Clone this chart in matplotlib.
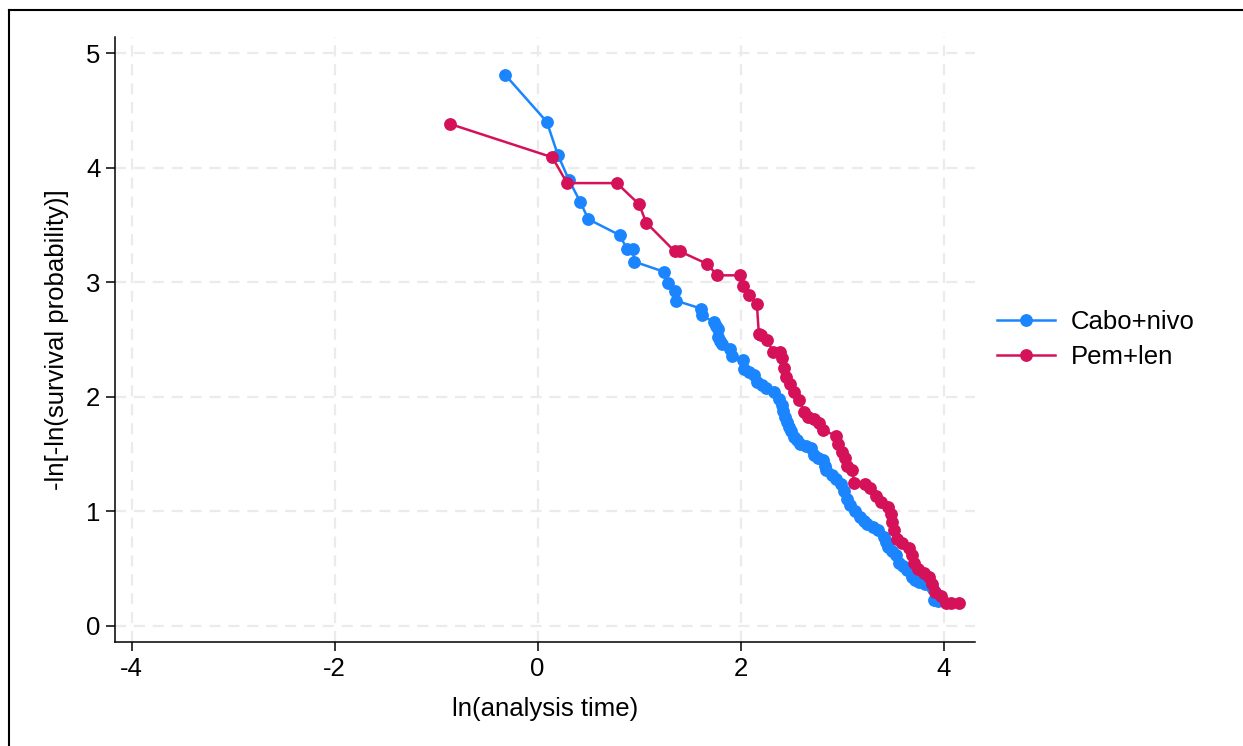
import matplotlib
matplotlib.use('Agg')
import matplotlib.pyplot as plt
from matplotlib.lines import Line2D

plt.rcParams['font.family'] = ['Liberation Sans', 'DejaVu Sans']
plt.rcParams['axes.unicode_minus'] = False

# ln(analysis time) / -ln[-ln(S)]
cabo_x = [-0.32, 0.09, 0.20, 0.31, 0.42, 0.50, 0.81, 0.88, 0.94, 0.95, 1.25, 1.28,
          1.35, 1.36, 1.61, 1.62, 1.74, 1.76, 1.78, 1.78, 1.80, 1.82, 1.90, 1.92,
          2.02, 2.03, 2.08, 2.13, 2.16, 2.21, 2.25, 2.33, 2.38, 2.41, 2.42, 2.44,
          2.46, 2.48, 2.50, 2.53, 2.56, 2.59, 2.64, 2.69, 2.72, 2.76, 2.81, 2.83,
          2.84, 2.90, 2.94, 2.99, 3.02, 3.05, 3.08, 3.13, 3.18, 3.22, 3.25, 3.30,
          3.35, 3.41, 3.43, 3.45, 3.49, 3.53, 3.56, 3.60, 3.64, 3.69, 3.72, 3.76,
          3.82, 3.88, 3.90, 3.91, 3.95]
cabo_y = [4.81, 4.40, 4.11, 3.89, 3.70, 3.55, 3.41, 3.29, 3.29, 3.18, 3.09, 2.99,
          2.92, 2.84, 2.77, 2.71, 2.65, 2.62, 2.59, 2.52, 2.49, 2.46, 2.42, 2.36,
          2.32, 2.24, 2.22, 2.19, 2.13, 2.10, 2.08, 2.04, 1.98, 1.93, 1.88, 1.82,
          1.78, 1.74, 1.70, 1.65, 1.62, 1.59, 1.57, 1.55, 1.49, 1.47, 1.45, 1.40,
          1.36, 1.32, 1.28, 1.24, 1.18, 1.11, 1.06, 1.00, 0.95, 0.92, 0.89, 0.86,
          0.84, 0.78, 0.73, 0.69, 0.65, 0.62, 0.55, 0.52, 0.49, 0.43, 0.40, 0.38,
          0.37, 0.35, 0.32, 0.23, 0.22]

pem_x = [-0.86, 0.145, 0.29, 0.78, 1.00, 1.07, 1.35, 1.40, 1.67, 1.77, 1.99, 2.02,
         2.085, 2.16, 2.18, 2.20, 2.26, 2.32, 2.39, 2.41, 2.43, 2.45, 2.49, 2.53,
         2.58, 2.62, 2.66, 2.72, 2.77, 2.81, 2.94, 2.96, 3.00, 3.03, 3.05, 3.10,
         3.12, 3.23, 3.28, 3.33, 3.38, 3.45, 3.48, 3.49, 3.51, 3.54, 3.59, 3.66,
         3.69, 3.71, 3.75, 3.81, 3.86, 3.89, 3.92, 3.97, 4.02, 4.07, 4.15]
pem_y = [4.38, 4.09, 3.865, 3.865, 3.68, 3.52, 3.27, 3.27, 3.16, 3.06, 3.06, 2.97,
         2.89, 2.81, 2.55, 2.54, 2.50, 2.39, 2.39, 2.34, 2.25, 2.17, 2.11, 2.04,
         1.97, 1.87, 1.82, 1.81, 1.77, 1.71, 1.66, 1.59, 1.52, 1.47, 1.40, 1.36,
         1.25, 1.24, 1.20, 1.13, 1.08, 1.04, 0.98, 0.91, 0.84, 0.76, 0.72, 0.68,
         0.62, 0.55, 0.50, 0.46, 0.43, 0.37, 0.30, 0.26, 0.20, 0.20, 0.20]

labels = ['Cabo+nivo', 'Pem+len']
colors = ['#1a85ff', '#d41159']
FS = 18.5

fig = plt.figure(figsize=(12.43, 7.46), dpi=100)
ax = fig.add_axes([0.0925, 0.1394, 0.6919, 0.811])

for xs, ys, c, lab in [(cabo_x, cabo_y, colors[0], labels[0]), (pem_x, pem_y, colors[1], labels[1])]:
    ax.plot(xs, ys, color=c, lw=1.8, marker='o', ms=8.2, mec=c, mfc=c, label=lab, zorder=3)

ax.set_xlim(-4.165, 4.31)
ax.set_ylim(-0.14, 5.14)
ax.set_xticks([-4, -2, 0, 2, 4])
ax.set_yticks([0, 1, 2, 3, 4, 5])
ax.grid(True, color='#ebebeb', lw=1.6, ls=(0, (5, 3.5)), zorder=0)
for s in ['top', 'right']:
    ax.spines[s].set_visible(False)
for s in ['left', 'bottom']:
    ax.spines[s].set_linewidth(1.1)
ax.tick_params(direction='out', length=6.5, width=1.1, labelsize=FS, pad=4)
ax.set_xlabel('ln(analysis time)', fontsize=FS, labelpad=12)
ax.set_ylabel('-ln[-ln(survival probability)]', fontsize=FS, labelpad=12)

fig.legend(*ax.get_legend_handles_labels(), loc='center left', bbox_to_anchor=(0.802, 0.545),
           frameon=False, fontsize=FS, numpoints=1, handlelength=2.26, handletextpad=0.62,
           borderpad=0, borderaxespad=0, labelspacing=0.45)

# outer frame (top and left edges only visible)
fig.add_artist(Line2D([9 / 1243, 1], [1 - 9.5 / 746, 1 - 9.5 / 746], color='black', lw=1.5, transform=fig.transFigure))
fig.add_artist(Line2D([9 / 1243, 9 / 1243], [0, 1 - 9.5 / 746], color='black', lw=1.5, transform=fig.transFigure))

fig.savefig('out.png', dpi=100, facecolor='white')
